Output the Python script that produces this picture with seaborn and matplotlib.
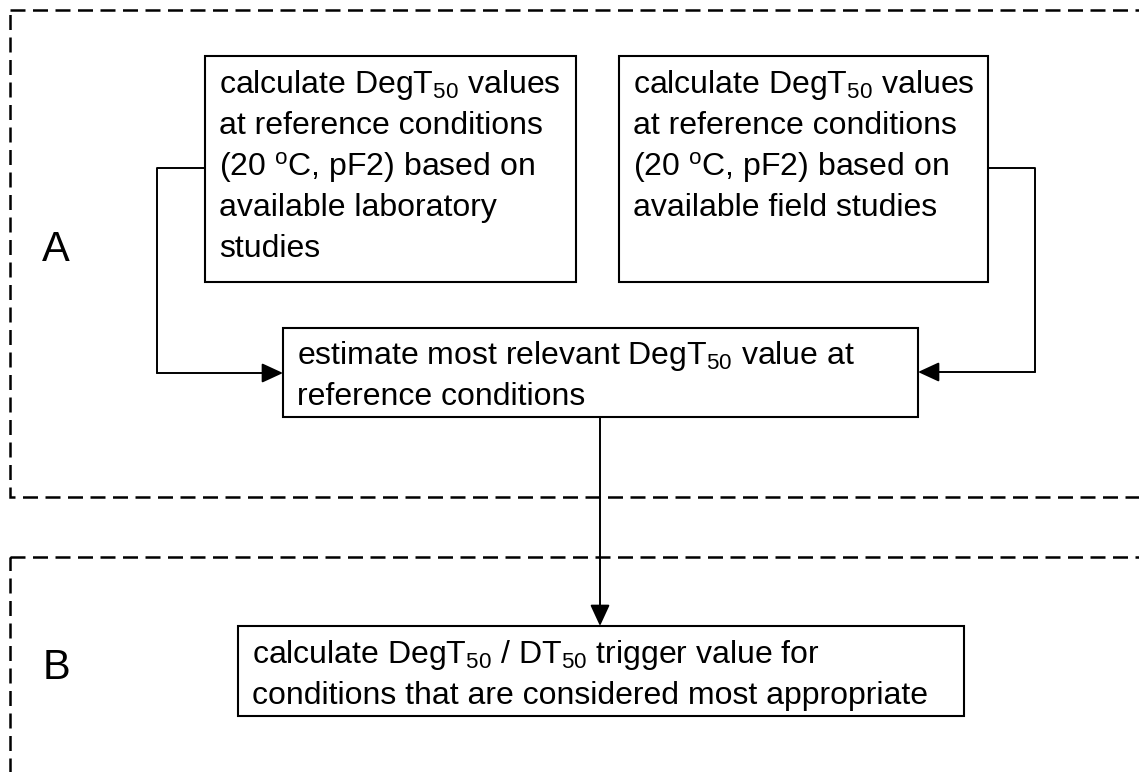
import matplotlib
matplotlib.use("Agg")
import matplotlib.pyplot as plt
from matplotlib.patches import Rectangle
import seaborn as sns

# Box texts (one entry per line)
lab_lines = ["calculate DegT$_{50}$ values",
             "at reference conditions",
             "(20 $^{\\mathrm{o}}$C, pF2) based on",
             "available laboratory",
             "studies"]
field_lines = ["calculate DegT$_{50}$ values",
               "at reference conditions",
               "(20 $^{\\mathrm{o}}$C, pF2) based on",
               "available field studies"]
estimate_lines = ["estimate most relevant DegT$_{50}$ value at",
                  "reference conditions"]
trigger_lines = ["calculate DegT$_{50}$ / DT$_{50}$ trigger value for",
                 "conditions that are considered most appropriate"]
section_labels = ["A", "B"]

# Layout in pixel coordinates (x0, y0, x1, y1), y downwards
boxes = {
    "lab": (205, 56, 576, 282),
    "field": (619, 56, 988, 282),
    "estimate": (283, 328, 918, 417),
    "trigger": (238, 626, 964, 716),
}
baselines = {
    "lab": [93, 134, 176, 216, 257],
    "field": [93, 134, 176, 216],
    "estimate": [364, 405],
    "trigger": [663, 704],
}
texts = {"lab": lab_lines, "field": field_lines,
         "estimate": estimate_lines, "trigger": trigger_lines}

sns.set_theme(style="white")
plt.rcParams["font.family"] = ["Liberation Sans", "DejaVu Sans"]
plt.rcParams["text.color"] = "black"
plt.rcParams["mathtext.fontset"] = "custom"
plt.rcParams["mathtext.rm"] = "Liberation Sans"
plt.rcParams["mathtext.it"] = "Liberation Sans:italic"
plt.rcParams["mathtext.bf"] = "Liberation Sans:bold"

W, H = 1139, 772
fig = plt.figure(figsize=(W / 100, H / 100), dpi=100)
ax = fig.add_axes([0, 0, 1, 1])
ax.set_xlim(0, W)
ax.set_ylim(H, 0)
ax.axis("off")

# dashed section frames (right side runs off the page)
dash = (0, (6, 3))
ax.add_patch(Rectangle((10, 10), 1300, 487, fill=False, lw=1.8,
                       ls=dash, ec="black"))
ax.add_patch(Rectangle((10, 557), 1300, 400, fill=False, lw=1.8,
                       ls=dash, ec="black"))
ax.text(56, 250, section_labels[0], fontsize=30, ha="center", va="center")
ax.text(56, 668, section_labels[1], fontsize=30, ha="center", va="center")

# boxes + text
for key, (x0, y0, x1, y1) in boxes.items():
    ax.add_patch(Rectangle((x0, y0), x1 - x0, y1 - y0, fill=False,
                           lw=1.5, ec="black"))
    for line, yb in zip(texts[key], baselines[key]):
        ax.text(x0 + 14, yb, line, fontsize=23, color="black",
                ha="left", va="baseline")

# connectors
lw = 1.4
ax.plot([205, 157, 157], [168, 168, 373], color="black", lw=lw)
ax.plot([988, 1035, 1035], [168, 168, 372], color="black", lw=lw)
arrow = dict(arrowstyle="-|>,head_length=0.65,head_width=0.3",
             color="black", lw=lw, shrinkA=0, shrinkB=0, mutation_scale=20)
ax.annotate("", xy=(283, 373), xytext=(157, 373), arrowprops=arrow)
ax.annotate("", xy=(918, 372), xytext=(1035, 372), arrowprops=arrow)
ax.annotate("", xy=(600, 626), xytext=(600, 417), arrowprops=arrow)

fig.savefig("out.png", dpi=100, facecolor="white")
